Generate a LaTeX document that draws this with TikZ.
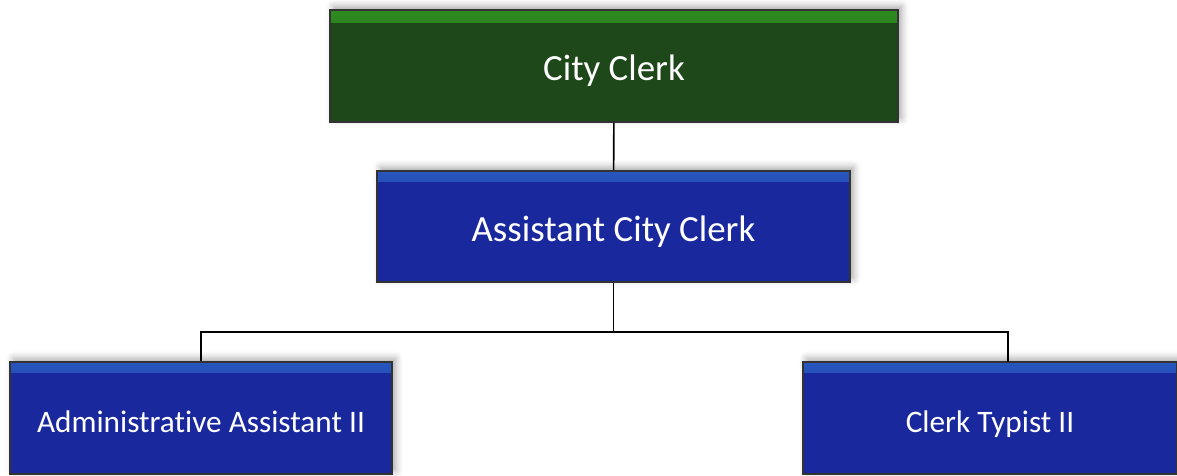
\documentclass[tikz,border=0pt]{standalone}
\usepackage{fontspec}
\setmainfont[Ligatures=NoCommon]{Carlito}
\usepackage{tikz}
\usetikzlibrary{shadows.blur}
\definecolor{clerkgreen}{RGB}{30,72,26}
\definecolor{clerkgreenlt}{RGB}{45,140,30}
\definecolor{clerkblue}{RGB}{26,40,158}
\definecolor{clerkbluelt}{RGB}{40,85,190}
\tikzstyle{line} = [draw, black, line width=0.9pt]
\tikzstyle{post} = [draw=black!80, line width=0.6pt, text=white, align=center, inner sep=0pt, text depth=0pt,
  blur shadow={shadow xshift=2pt, shadow yshift=2pt, shadow blur radius=4pt, shadow opacity=35}]
\tikzstyle{topbox} = [post, fill=clerkgreen, font=\fontsize{21}{25}\selectfont, text height=17pt,
  path picture={\shade[top color=clerkgreenlt, bottom color=clerkgreen] (path picture bounding box.north west) rectangle ([yshift=-0.25cm]path picture bounding box.north east);}]
\tikzstyle{midbox} = [post, fill=clerkblue, font=\fontsize{21}{25}\selectfont, text height=17pt,
  path picture={\shade[top color=clerkbluelt, bottom color=clerkblue] (path picture bounding box.north west) rectangle ([yshift=-0.2cm]path picture bounding box.north east);}]
\tikzstyle{lowbox} = [post, fill=clerkblue, font=\fontsize{17.8}{21}\selectfont, text height=16.6pt,
  path picture={\shade[top color=clerkbluelt, bottom color=clerkblue] (path picture bounding box.north west) rectangle ([yshift=-0.2cm]path picture bounding box.north east);}]
\begin{document}
\begin{tikzpicture}
      \useasboundingbox (0,0) rectangle (23.54,-9.52);

      % boxes
      \node[topbox, minimum width=11.36cm, minimum height=2.24cm] (city) at (12.28,-1.32) {City Clerk};
      \node[midbox, minimum width=9.46cm, minimum height=2.22cm] (asst) at (12.27,-4.53) {Assistant City Clerk};
      \node[lowbox, minimum width=7.64cm, minimum height=2.24cm] (admin) at (4.02,-8.36) {Administrative Assistant II};
      \node[lowbox, minimum width=7.48cm, minimum height=2.24cm] (typist) at (19.8,-8.36) {Clerk Typist II};

      % connector ends
      \coordinate (bus) at (12.27,-6.64);
      \coordinate (tdrop) at (20.16,-7.24);

      % connectors
      \draw[line] (city) -- (asst);
      \draw[line] (asst.south) -- (bus);
      \draw[line] (bus) -| (admin.north);
      \draw[line] (bus) -| (tdrop);
\end{tikzpicture}
\end{document}
